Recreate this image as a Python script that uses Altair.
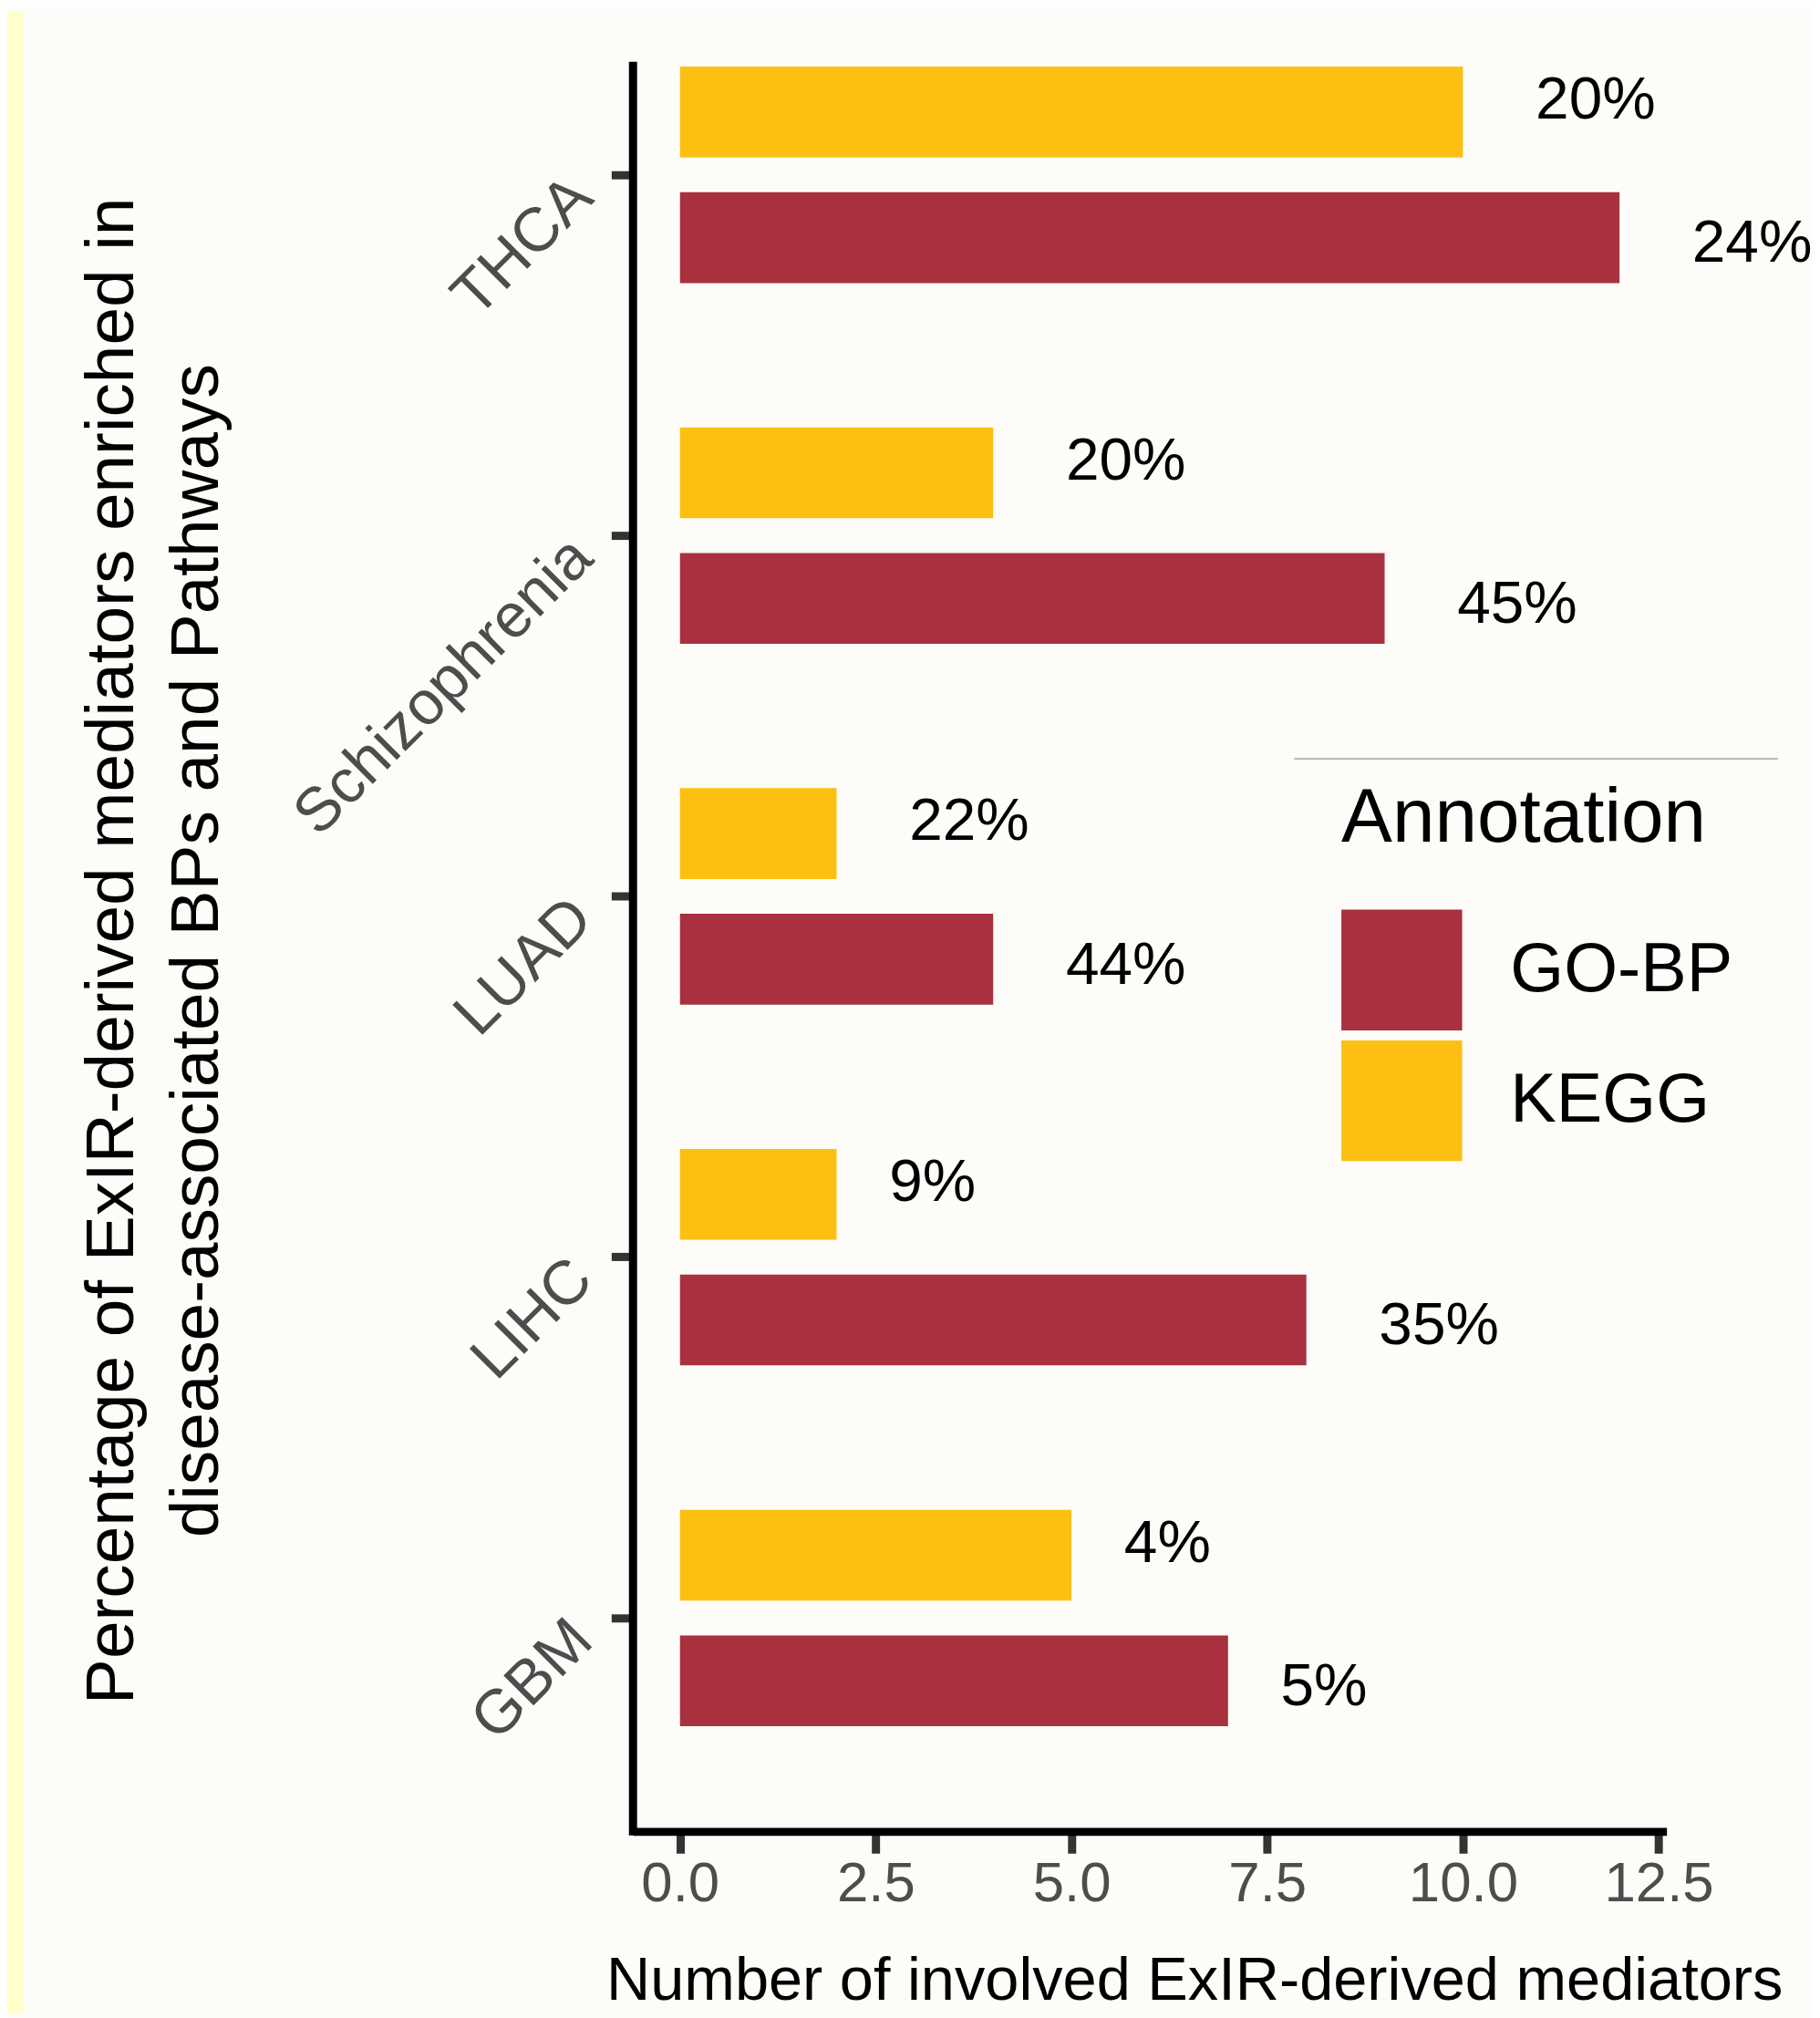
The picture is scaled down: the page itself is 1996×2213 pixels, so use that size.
import altair as alt
import pandas as pd

# ---- data ----
diseases = ["THCA", "Schizophrenia", "LUAD", "LIHC", "GBM"]
gobp_counts = [12, 9, 4, 8, 7]
kegg_counts = [10, 4, 2, 2, 5]
gobp_pct = ["24%", "45%", "44%", "35%", "5%"]
kegg_pct = ["20%", "20%", "22%", "9%", "4%"]
annotations = ["GO-BP", "KEGG"]
annotation_colors = ["#A9303F", "#FDBF11"]
x_tick_values = [0, 2.5, 5, 7.5, 10, 12.5]

rows = []
for d, g, k, gp, kp in zip(diseases, gobp_counts, kegg_counts, gobp_pct, kegg_pct):
    rows.append({"Disease": d, "Annotation": "GO-BP", "Count": g, "Label": gp})
    rows.append({"Disease": d, "Annotation": "KEGG", "Count": k, "Label": kp})
df = pd.DataFrame(rows)

FONT = "Liberation Sans"
W, H = 1138, 1944
STEP = 397.25
Y0 = 120 - STEP / 2

x_enc = alt.X(
    "Count:Q",
    scale=alt.Scale(domain=[-0.6, 12.6], nice=False, zero=False),
    axis=alt.Axis(
        values=x_tick_values, format=".1f", grid=False,
        domain=True, domainColor="black", domainWidth=9,
        ticks=True, tickColor="#333333", tickWidth=9, tickSize=24,
        labelFont=FONT, labelFontSize=62, labelColor="#4D4D4D", labelPadding=3,
        title="Number of involved ExIR-derived mediators",
        titleFont=FONT, titleFontSize=67, titleFontWeight="normal", titleColor="black",
        titleX=618, titleY=165, titleAlign="center", titleBaseline="middle",
    ),
)

y_enc = alt.Y(
    "Disease:N",
    sort=diseases,
    scale=alt.Scale(range=[Y0, Y0 + 5 * STEP], paddingInner=0, paddingOuter=0),
    axis=alt.Axis(
        domain=False, grid=False,
        ticks=True, tickColor="#333333", tickWidth=9, tickSize=24,
        labelFont=FONT, labelFontSize=68, labelColor="#4D4D4D", labelLimit=2000,
        labelAngle=315, labelAlign="right", labelBaseline="top", labelPadding=56,
        labelOffset=-10,
        title=["Percentage of ExIR-derived mediators enriched in",
               "disease-associated BPs and Pathways"],
        titleFont=FONT, titleFontSize=75, titleFontWeight="normal", titleColor="black",
        titleAngle=270, titleAlign="center", titleBaseline="middle", titleLimit=4000,
        titleLineHeight=93, titleX=-574, titleY=974,
    ),
)

color_enc = alt.Color(
    "Annotation:N",
    scale=alt.Scale(domain=annotations, range=annotation_colors),
    legend=alt.Legend(
        title="Annotation", orient="none", legendX=780, legendY=788,
        titleFont=FONT, titleFontSize=84, titleFontWeight="normal", titleColor="black",
        titlePadding=57, titleLimit=2000,
        labelFont=FONT, labelFontSize=76, labelColor="black", labelLimit=2000,
        symbolType="square", symbolSize=17689, symbolStrokeWidth=0, symbolOpacity=1,
        rowPadding=11, labelOffset=53, padding=0,
    ),
)

base = alt.Chart(df)

bars = base.mark_bar().encode(
    x=x_enc,
    y=y_enc,
    yOffset=alt.YOffset("Annotation:N", sort=["KEGG", "GO-BP"],
                        scale=alt.Scale(paddingInner=0.277, paddingOuter=0.5746)),
    color=color_enc,
)

text_off = alt.YOffset("Annotation:N", sort=["KEGG", "GO-BP"],
                       scale=alt.Scale(padding=0.757))

labels3 = base.transform_filter("length(datum.Label) == 3").mark_text(
    align="left", baseline="middle", dx=80, dy=-3, font=FONT, fontSize=66, color="black"
).encode(x=x_enc, y=y_enc, yOffset=text_off, text="Label:N")

labels2 = base.transform_filter("length(datum.Label) == 2").mark_text(
    align="left", baseline="middle", dx=58, dy=-3, font=FONT, fontSize=66, color="black"
).encode(x=x_enc, y=y_enc, yOffset=text_off, text="Label:N")

one = alt.Chart(alt.Data(values=[{}]))
y_axis_line = one.mark_rule(color="black", strokeWidth=9, strokeCap="square").encode(
    x=alt.value(0), y=alt.value(0), y2=alt.value(H)
)
legend_line = one.mark_rule(color="#B3B3B3", strokeWidth=2).encode(
    x=alt.value(728), x2=alt.value(1261), y=alt.value(763)
)
left_strip = one.mark_rect(color="#FFFFCC").encode(
    x=alt.value(-689), x2=alt.value(-672), y=alt.value(-60), y2=alt.value(2145)
)

chart = (
    alt.layer(left_strip, bars, labels3, labels2, y_axis_line, legend_line)
    .resolve_scale(yOffset="independent")
    .properties(
        width=W, height=H,
        autosize=alt.AutoSizeParams(type="none"),
        padding={"left": 689, "top": 60, "right": 161, "bottom": 201},
        background="#FDFCF8",
    )
    .configure_view(stroke=None)
)

chart.save("out.html", embed_options={"renderer": "svg", "actions": False})
